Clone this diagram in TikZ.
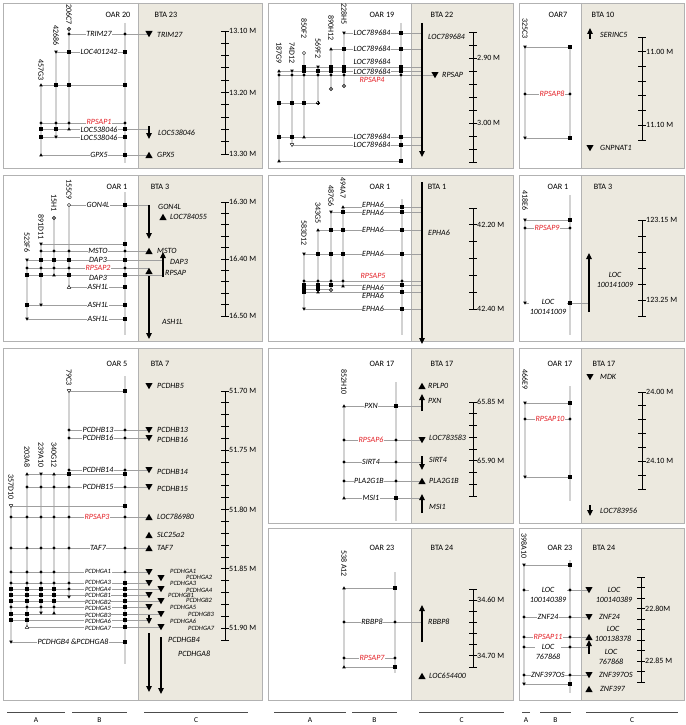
\documentclass[tikz,border=0pt]{standalone}
\usepackage{fontspec}
\setmainfont{Carlito}
\usetikzlibrary{arrows.meta}
\definecolor{shadec}{RGB}{236,233,223}
\definecolor{redc}{RGB}{228,32,38}
\tikzset{
 lab/.style={font=\fontsize{8}{10}\selectfont\itshape, fill=white, inner sep=0.6pt},
 blab/.style={font=\fontsize{8}{10}\selectfont\itshape, anchor=west, inner sep=0pt},
 bacn/.style={font=\fontsize{8}{9}\selectfont, rotate=-90, anchor=west, inner sep=0pt},
 hdr/.style={font=\fontsize{8.2}{9}\selectfont, inner sep=0pt},
 scl/.style={font=\fontsize{8}{9}\selectfont, anchor=west, inner sep=0pt},
 hl/.style={draw=gray!75, line width=0.5pt},
 vl/.style={draw=gray!35, line width=1.6pt},
 garr/.style={line width=1.1pt, -{Triangle[length=6pt,width=5.5pt]}},
 scbar/.style={line width=0.9pt},
 pframe/.style={draw=gray!60, line width=0.8pt},
}
\newcommand\mSq[2]{\fill (#1-1.7,#2-1.7) rectangle (#1+1.7,#2+1.7);}
\newcommand\mDt[2]{\fill (#1,#2) circle (1.7);}
\newcommand\mTu[2]{\fill (#1-1.8,#2+1.4) -- (#1+1.8,#2+1.4) -- (#1,#2-1.7) -- cycle;}
\newcommand\mTd[2]{\fill (#1-1.8,#2-1.4) -- (#1+1.8,#2-1.4) -- (#1,#2+1.7) -- cycle;}
\newcommand\mOTu[2]{\filldraw[fill=white,line width=0.4pt] (#1-1.8,#2+1.4) -- (#1+1.8,#2+1.4) -- (#1,#2-1.7) -- cycle;}
\newcommand\mOTd[2]{\filldraw[fill=white,line width=0.4pt] (#1-1.8,#2-1.4) -- (#1+1.8,#2-1.4) -- (#1,#2+1.7) -- cycle;}
\newcommand\mOc[2]{\filldraw[fill=white,line width=0.4pt] (#1,#2) circle (1.7);}
\newcommand\mOd[2]{\filldraw[fill=white,line width=0.4pt] (#1,#2) circle (1.9); \fill (#1,#2) circle (0.8);}
\newcommand\mOp[2]{\filldraw[fill=white,line width=0.4pt] (#1,#2) circle (1.9); \draw[line width=0.4pt] (#1-1.9,#2) -- (#1+1.9,#2) (#1,#2-1.9) -- (#1,#2+1.9);}
\newcommand\mBTu[2]{\fill (#1-3.6,#2+3) -- (#1+3.6,#2+3) -- (#1,#2-3.2) -- cycle;}
\newcommand\mBTd[2]{\fill (#1-3.6,#2-3) -- (#1+3.6,#2-3) -- (#1,#2+3.2) -- cycle;}
\newcommand\mLab[3]{\node[lab] at (#1,#2) {#3};}
\newcommand\mRed[3]{\node[lab,text=redc] at (#1,#2) {#3};}
\newcommand\mLs[3]{\node[lab,font=\fontsize{6.5}{7}\selectfont\itshape] at (#1,#2) {#3};}
\newcommand\mSm[3]{\node[blab,font=\fontsize{6.5}{7}\selectfont\itshape] at (#1,#2) {#3};}
\newcommand\mBl[3]{\node[blab] at (#1,#2) {#3};}
\newcommand\mBac[3]{\node[bacn] at (#1,#2) {#3};}
\newcommand\mHdr[3]{\node[hdr] at (#1,#2) {#3};}
\newcommand\mScl[3]{\node[scl] at (#1,#2) {#3};}
\newcommand\mScale[4]{\draw[scbar] (#1,#2) -- (#1,#3); \foreach \k in {0,...,#4}{\draw[scbar] ({#1-4},{#2+(#3-#2)*\k/#4}) -- ({#1+4},{#2+(#3-#2)*\k/#4});}}
\newcommand\mV[3]{\draw[vl] (#1,#2) -- (#1,#3);}
\newcommand\mH[3]{\draw[hl] (#1,#3) -- (#2,#3);}
\newcommand\mPanel[5]{\fill[shadec] (#2,#4) rectangle (#3,#5); \draw[pframe] (#1,#4) rectangle (#3,#5); \draw[pframe] (#2,#4) -- (#2,#5);}
\newcommand\mGA[3]{\draw[garr] (#1,#2) -- (#1,#3);}
\begin{document}
\begin{tikzpicture}[x=1pt,y=-1pt]
\useasboundingbox (0,0) rectangle (685,725);
\fill[white] (0,0) rectangle (685,725);
% ================= P1
\mPanel{3}{138}{262}{3}{168}
\mHdr{118}{15}{OAR 20} \mHdr{166}{15}{BTA 23}
\mV{125}{23}{163} \mV{69}{29}{128} \mV{56}{51}{137} \mV{41}{86}{156}
\mBac{69}{4}{206C7} \mBac{56}{25}{42686} \mBac{41}{59}{457G3}
\mH{69}{149}{34} \mH{56}{125}{52} \mH{41}{125}{85} \mH{41}{125}{123} \mH{41}{149}{129} \mH{41}{125}{137} \mH{41}{149}{155}
\mLab{99}{34}{TRIM27} \mLab{99}{52}{LOC401242} \mRed{99}{122}{RPSAP1} \mLab{99}{130}{LOC538046} \mLab{99}{137.5}{LOC538046} \mLab{99}{155}{GPX5}
\mOd{69}{29} \mDt{69}{34} \mDt{125}{34}
\mTd{56}{52} \mSq{69}{52} \mSq{125}{52}
\mTu{41}{85} \mSq{56}{85} \mSq{69}{85} \mSq{125}{85}
\foreach \x in {41,56,69,125} {\mDt{\x}{123}}
\mSq{41}{129} \mSq{56}{129} \mTu{69}{129} \mSq{125}{129}
\mSq{41}{137} \mTd{56}{137} \mSq{125}{137}
\mTu{41}{155} \mSq{125}{155}
\mBTd{149}{34} \mBl{157}{35}{TRIM27}
\mGA{149}{126}{139} \mBl{158}{133}{LOC538046}
\mBTu{149}{155} \mBl{157}{155}{GPX5}
\mScale{225}{31}{154}{10} \mScl{229}{31}{13.10 M} \mScl{229}{92.5}{13.20 M} \mScl{229}{154}{13.30 M}
% ================= P2
\mPanel{268}{411}{513}{3}{168}
\mHdr{382}{15}{OAR 19} \mHdr{442}{15}{BTA 22}
\mV{401}{23}{163}
\mV{344}{33}{86} \mV{331}{49}{89} \mV{318}{67}{103} \mV{304}{53}{137} \mV{292}{71}{145} \mV{279}{71}{161}
\mBac{344}{3}{228H5} \mBac{331}{15}{890H12} \mBac{318}{38}{569F2} \mBac{304}{18}{850F2} \mBac{292}{42}{74D12} \mBac{279}{42}{187G9}
\mH{344}{422}{33} \mH{331}{422}{49} \mH{304}{422}{67} \mH{279}{422}{71} \mH{279}{435}{75} \mH{279}{318}{103} \mH{279}{422}{137} \mH{292}{422}{145} \mH{279}{401}{161}
\mGA{422}{23}{157}
\mLab{372}{33}{LOC789684} \mLab{372}{49}{LOC789684} \mLab{372}{62}{LOC789684} \mLab{372}{71.5}{LOC789684} \mRed{372}{80}{RPSAP4} \mLab{372}{137}{LOC789684} \mLab{372}{145}{LOC789684}
\mTd{344}{33} \mSq{401}{33}
\mTu{331}{49} \mSq{344}{49} \mSq{401}{49}
\mOc{304}{53}
\mSq{304}{67} \mTd{318}{67} \mSq{331}{67} \mSq{344}{67} \mSq{401}{67}
\mTu{279}{71} \mTd{292}{71} \foreach \x in {304,318,331,344,401}{\mSq{\x}{71}}
\foreach \x in {279,292,304,318,331,344,401}{\mDt{\x}{75}}
\mOd{344}{86} \mOd{331}{89}
\mSq{279}{103} \mSq{292}{103} \mSq{304}{103} \mOp{318}{103}
\mSq{279}{137} \mSq{292}{137} \mTu{304}{137} \mSq{401}{137}
\mOTd{292}{145} \mSq{401}{145}
\mTu{279}{161} \mSq{401}{161}
\mBl{428}{37}{LOC789684} \mBTd{435}{75} \mBl{442}{75}{RPSAP}
\mScale{473}{32}{162}{10} \mScl{477}{58}{2.90 M} \mScl{477}{123}{3.00 M}
% ================= P3
\mPanel{519}{581}{684}{3}{168}
\mHdr{558}{15}{OAR7} \mHdr{603}{15}{BTA 10}
\mV{570}{47}{139} \mV{525}{47}{138}
\mBac{525}{18}{325C3}
\mH{525}{570}{47} \mH{525}{570}{94} \mH{525}{570}{138}
\mRed{552}{94}{RPSAP8}
\mTd{525}{47} \mSq{570}{47} \mDt{525}{94} \mDt{570}{94} \mTd{525}{138} \mSq{570}{138}
\mGA{590}{39}{28} \mBl{600}{35}{SERINC5} \mBTd{590}{148} \mBl{600}{148}{GNPNAT1}
\mScale{642}{37}{140}{7} \mScl{646}{51.7}{11.00 M} \mScl{646}{125.3}{11.10 M}
% ================= P4
\mPanel{3}{138}{262}{175}{341}
\mHdr{117}{187}{OAR 1} \mHdr{160}{187}{BTA 3}
\mV{125}{192}{335} \mV{69}{205}{287} \mV{54}{218}{275} \mV{41}{244}{305} \mV{27}{259}{319}
\mBac{69}{179}{155C9} \mBac{54}{194}{15H1} \mBac{41}{214}{891D11} \mBac{27}{232}{523F6}
\mH{69}{149}{205} \mH{41}{125}{244} \mH{41}{149}{251} \mH{27}{163}{260} \mH{27}{149}{268} \mH{27}{163}{275} \mH{69}{125}{287} \mH{27}{125}{305} \mH{27}{125}{319}
\mLab{98}{205}{GON4L} \mLab{98}{251}{MSTO} \mLab{98}{259.5}{DAP3} \mRed{98}{268}{RPSAP2} \mLab{98}{277.5}{DAP3} \mLab{98}{287}{ASH1L} \mLab{98}{305}{ASH1L} \mLab{98}{319}{ASH1L}
\mOc{69}{205} \mSq{125}{205}
\mOd{54}{218}
\mTd{41}{244} \mSq{125}{244}
\foreach \x in {41,54,69,125}{\mDt{\x}{251}}
\mTd{27}{260} \foreach \x in {41,54,69,125}{\mSq{\x}{260}}
\foreach \x in {27,41,54,69,125}{\mDt{\x}{268}}
\mSq{27}{275} \mSq{41}{275} \mTu{54}{275} \mSq{69}{275} \mSq{125}{275}
\mOTu{69}{287} \mSq{125}{287}
\mSq{27}{305} \mTd{41}{305} \mSq{125}{305}
\mTd{27}{319} \mSq{125}{319}
\mGA{149}{205}{239} \mBl{158}{207}{GON4L} \mBTu{163}{217} \mBl{170}{217}{LOC784055}
\mBTu{149}{251} \mBl{157}{251}{MSTO}
\mGA{163}{277}{252} \mBl{170}{262}{DAP3}
\mBTu{149}{271} \mBl{165}{273}{RPSAP}
\mGA{149}{276}{339} \mBl{162}{322}{ASH1L}
\mScale{225}{202}{316}{10} \mScl{229}{202}{16.30 M} \mScl{229}{259}{16.40 M} \mScl{229}{316}{16.50 M}
% ================= P5
\mPanel{268}{411}{513}{175}{341}
\mHdr{380}{187}{OAR 1} \mHdr{437}{187}{BTA 1}
\mV{402}{199}{335} \mV{343}{207}{287} \mV{331}{212}{290} \mV{318}{230}{292} \mV{304}{254}{309}
\mBac{343}{177}{494A7} \mBac{331}{185}{487G6} \mBac{318}{202}{343G5} \mBac{304}{220}{583D12}
\mH{343}{422}{207} \mH{331}{422}{212} \mH{318}{422}{230} \mH{304}{422}{254} \mH{304}{422}{281} \mH{304}{422}{285} \mH{304}{331}{289} \mH{304}{422}{292} \mH{304}{422}{309}
\mGA{422}{182}{344}
\mLab{373}{205}{EPHA6} \mLab{373}{213}{EPHA6} \mLab{373}{230}{EPHA6} \mLab{373}{254}{EPHA6} \mRed{373}{276}{RPSAP5} \mLab{373}{288}{EPHA6} \mLab{373}{296}{EPHA6} \mLab{373}{309}{EPHA6}
\mTu{343}{207} \mSq{402}{207}
\mTd{331}{212} \mSq{343}{212} \mSq{402}{212}
\mTu{318}{230} \mSq{331}{230} \mSq{343}{230} \mSq{402}{230}
\mTd{304}{254} \mSq{318}{254} \mSq{331}{254} \mSq{343}{254} \mSq{402}{254}
\foreach \x in {304,318,331,343,402}{\mDt{\x}{281}}
\mSq{304}{285} \mSq{318}{285} \mSq{331}{285} \mTu{343}{286} \mSq{402}{285}
\mSq{304}{289} \mSq{318}{289} \mOd{331}{290}
\mSq{304}{292} \mTu{318}{292} \mSq{402}{292}
\mTd{304}{309} \mSq{402}{309}
\mBl{428}{233}{EPHA6}
\mScale{473}{208}{309}{6} \mScl{477}{224.8}{42.20 M} \mScl{477}{309}{42.40 M}
% ================= P6
\mPanel{519}{581}{684}{175}{341}
\mHdr{558}{187}{OAR 1} \mHdr{603}{187}{BTA 3}
\mV{570}{195}{335} \mV{525}{220}{303}
\mBac{525}{190}{418E6}
\mH{525}{570}{220} \mH{525}{570}{228} \mH{525}{589}{303}
\mRed{547}{228}{RPSAP9}
\node[lab,align=center] at (548,307) {LOC\\100141009};
\mTd{525}{220} \mSq{570}{220} \mDt{525}{228} \mDt{570}{228} \mTd{525}{303} \mSq{570}{303}
\mGA{589}{312}{253}
\node[blab,align=center,anchor=center] at (615,280) {LOC\\100141009};
\mScale{642}{220}{316}{6} \mScl{646}{220}{123.15 M} \mScl{646}{300}{123.25 M}
% ================= P7
\mPanel{3}{138}{262}{348}{700}
\mHdr{117}{364}{OAR 5} \mHdr{160}{364}{BTA 7}
\mV{125}{376}{664} \mV{69}{391}{597} \mV{54}{474}{613} \mV{41}{474}{613} \mV{27}{474}{627} \mV{11}{506}{642}
\mBac{69}{369}{79C3} \mBac{54}{442}{340G12} \mBac{41}{442}{239A10} \mBac{27}{446}{203A8} \mBac{11}{474}{357D10}
\mH{69}{125}{391} \mH{69}{149}{430} \mH{69}{149}{438} \mH{69}{149}{470} \mH{27}{125}{474} \mH{27}{149}{487} \mH{11}{125}{506} \mH{11}{149}{517} \mH{11}{149}{548}
\mH{11}{149}{572} \mH{11}{149}{583} \mH{11}{161}{589} \mH{11}{149}{595} \mH{11}{161}{601} \mH{11}{149}{607} \mH{11}{161}{614} \mH{11}{149}{620} \mH{27}{161}{627} \mH{11}{125}{642}
\mLab{98}{430}{PCDHB13} \mLab{98}{438}{PCDHB16} \mLab{98}{470}{PCDHB14} \mLab{98}{487}{PCDHB15} \mRed{97}{517}{RPSAP3} \mLab{98}{548}{TAF7}
\mLs{98}{571}{PCDHGA1} \mLs{98}{582.5}{PCDHGA3} \mLs{98}{589}{PCDHGA4} \mLs{98}{595.5}{PCDHGB1} \mLs{98}{602}{PCDHGB2} \mLs{98}{608.5}{PCDHGA5} \mLs{98}{615}{PCDHGB3} \mLs{98}{621.5}{PCDHGA6} \mLs{98}{628}{PCDHGA7}
\mLab{73}{642}{PCDHGB4 \&PCDHGA8}
\mOTd{69}{391} \mSq{125}{391}
\mDt{69}{430} \mDt{125}{430} \mDt{69}{438} \mDt{125}{438} \mDt{69}{470} \mDt{125}{470}
\mTu{27}{474} \mTd{41}{474} \mTu{54}{474} \mSq{69}{474} \mSq{125}{474}
\foreach \x in {27,41,54,69,125}{\mDt{\x}{487}}
\mOTd{11}{506} \mSq{125}{506}
\foreach \x in {11,27,41,54,69,125}{\mDt{\x}{517}}
\foreach \x in {11,27,41,54,69,125}{\mDt{\x}{548}}
\foreach \x in {11,27,41,54,125}{\mDt{\x}{572}}
\foreach \x in {11,27,41,54,69}{\mDt{\x}{583}} \mSq{125}{583}
\foreach \x in {11,27,41,54}{\mSq{\x}{589}} \mDt{69}{589} \mSq{125}{589}
\foreach \x in {11,27,41,54}{\mSq{\x}{595}} \mTd{69}{597} \mSq{125}{595}
\foreach \x in {11,27,41,54}{\mSq{\x}{601}} \mSq{125}{601}
\foreach \x in {11,27,41,54}{\mDt{\x}{607}} \mSq{125}{607}
\mSq{11}{614} \mSq{27}{614} \mTd{41}{613} \mTu{54}{613} \mSq{125}{614}
\mSq{11}{620} \mSq{27}{620} \mSq{125}{620}
\mOTu{27}{627} \mSq{125}{627}
\mTd{11}{642} \mSq{125}{642}
\mBTd{149}{386} \mBl{157}{386}{PCDHB5}
\mBTd{149}{430} \mBl{157}{430}{PCDHB13}
\mBTd{149}{438} \mBl{157}{440}{PCDHB16}
\mBTd{149}{470} \mBl{157}{472}{PCDHB14}
\mBTd{149}{487} \mBl{157}{489}{PCDHB15}
\mBTu{149}{517} \mBl{157}{517}{LOC786980}
\mBTu{149}{535} \mBl{157}{535}{SLC25a2}
\mBTu{149}{548} \mBl{157}{548}{TAF7}
\mBTd{149}{572} \mBTd{161}{578} \mBTd{149}{583} \mBTd{161}{589} \mBTd{149}{595} \mBTd{161}{601} \mBTd{149}{607} \mBTd{161}{614} \mGA{149}{615}{624} \mBTd{161}{627}
\mSm{170}{571}{PCDHGA1} \mSm{186}{577}{PCDHGA2} \mSm{170}{583}{PCDHGA3} \mSm{186}{590}{PCDHGA4} \mSm{168}{595}{PCDHGB1} \mSm{186}{600}{PCDHGB2} \mSm{170}{607}{PCDHGA5} \mSm{188}{614}{PCDHGB3} \mSm{170}{621}{PCDHGA6} \mSm{188}{628}{PCDHGA7}
\mGA{149}{633}{692} \mGA{161}{637}{694}
\mBl{168}{640}{PCDHGB4} \mBl{178}{654}{PCDHGA8}
\mScale{225}{391}{640}{21}
\mScl{229}{391}{51.70 M} \mScl{229}{450.3}{51.75 M} \mScl{229}{509.6}{51.80 M} \mScl{229}{568.8}{51.85 M} \mScl{229}{628.1}{51.90 M}
% ================= P8
\mPanel{268}{411}{513}{348}{523}
\mHdr{382}{364}{OAR 17} \mHdr{442}{364}{BTA 17}
\mV{396}{382}{521} \mV{344}{406}{498}
\mBac{344}{369}{852H10}
\mH{344}{422}{406} \mH{344}{422}{440} \mH{344}{422}{462} \mH{344}{422}{481} \mH{344}{422}{498}
\mLab{371}{406}{PXN} \mRed{371}{440}{RPSAP6} \mLab{371}{462}{SIRT4} \mLab{369}{481}{PLA2G1B} \mLab{371}{498}{MSI1}
\mTu{344}{406} \mSq{396}{406} \mDt{344}{440} \mDt{396}{440} \mDt{344}{462} \mDt{396}{462} \mDt{344}{481} \mDt{396}{481} \mTu{344}{498} \mSq{396}{498}
\mBTu{422}{386} \mBl{428}{386}{RPLP0}
\mGA{422}{411}{394} \mBl{428}{401}{PXN}
\mBTd{422}{440} \mBl{429}{438}{LOC783583}
\mGA{422}{456}{470} \mBl{429}{460}{SIRT4}
\mBTu{422}{481} \mBl{429}{481}{PLA2G1B}
\mGA{422}{513}{494} \mBl{429}{507}{MSI1}
\mScale{473}{402}{496}{8} \mScl{477}{402}{65.85 M} \mScl{477}{460.75}{65.90 M}
% ================= P9
\mPanel{519}{581}{684}{348}{523}
\mHdr{560}{364}{OAR 17} \mHdr{604}{364}{BTA 17}
\mV{570}{386}{501} \mV{525}{403}{477}
\mBac{525}{369}{466E9}
\mH{525}{570}{403} \mH{525}{570}{419} \mH{525}{570}{477}
\mRed{550}{419}{RPSAP10}
\mTd{525}{403} \mSq{570}{403} \mDt{525}{419} \mDt{570}{419} \mTd{525}{477} \mSq{570}{477}
\mBTd{590}{377} \mBl{600}{377}{MDK}
\mGA{590}{505}{516} \mBl{600}{511}{LOC783956}
\mScale{642}{392}{489}{7} \mScl{646}{392}{24.00 M} \mScl{646}{461.3}{24.10 M}
% ================= P10
\mPanel{268}{411}{513}{528}{700}
\mHdr{382}{548}{OAR 23} \mHdr{442}{548}{BTA 24}
\mV{395}{572}{673} \mV{344}{588}{667}
\mBac{344}{550}{538 A12}
\mH{344}{395}{588} \mH{344}{422}{622} \mH{344}{395}{658} \mH{344}{395}{667}
\mLab{372}{622}{RBBP8} \mRed{372}{658}{RPSAP7}
\mTu{344}{588} \mSq{395}{588} \mDt{344}{622} \mDt{395}{622} \mDt{344}{658} \mDt{395}{658} \mTu{344}{667} \mSq{395}{667}
\mGA{422}{642}{605} \mBl{428}{622}{RBBP8}
\mBTu{422}{676} \mBl{429}{676}{LOC654400}
\mScale{473}{589}{667}{7} \mScl{477}{600.1}{34.60 M} \mScl{477}{655.9}{34.70 M}
% ================= P11
\mPanel{519}{581}{684}{528}{700}
\mHdr{560}{548}{OAR 23} \mHdr{604}{548}{BTA 24}
\mV{570}{560}{693} \mV{524}{565}{684}
\mBac{524}{533}{398A10}
\mH{524}{570}{565} \mH{524}{589}{590} \mH{524}{589}{617} \mH{524}{589}{637} \mH{524}{589}{647} \mH{524}{589}{675} \mH{524}{570}{684}
\node[lab,align=center] at (548,595) {LOC\\100140389};
\mLab{548}{617}{ZNF24} \mRed{548}{637}{RPSAP11}
\node[lab,align=center] at (548,652) {LOC\\767868};
\mLab{548}{675}{ZNF397OS}
\mTd{524}{565} \mSq{570}{565}
\foreach \y in {590,617,637,647,675}{\mDt{524}{\y} \mDt{570}{\y}}
\mTd{524}{684} \mSq{570}{684}
\mBTd{589}{590} \node[blab,align=center,anchor=center] at (614,595) {LOC\\100140389};
\mBTd{589}{617} \mBl{599}{617}{ZNF24}
\mBTu{589}{637} \node[blab,align=center,anchor=center] at (613,634) {LOC\\100138378};
\mGA{589}{654}{640} \node[blab,align=center,anchor=center] at (611,657) {LOC\\767868};
\mBTd{589}{675} \mBl{599}{675}{ZNF397OS}
\mBTu{589}{689} \mBl{600}{689}{ZNF397}
\mScale{641}{577}{682}{10} \mScl{645}{608.5}{22.80M} \mScl{645}{661}{22.85 M}
% ================= bottom bars
\foreach \a/\b/\t in {7/65/A,72/127/B,144/248/C,274/346/A,352/397/B,419/504/C,522/530/A,540/571/B,586/678/C}{
 \draw[line width=0.9pt, black!70] (\a,712) -- (\b,712);
 \node[font=\fontsize{7.5}{8}\selectfont, inner sep=0pt] at ({(\a+\b)/2},720) {\t};}
\end{tikzpicture}
\end{document}
